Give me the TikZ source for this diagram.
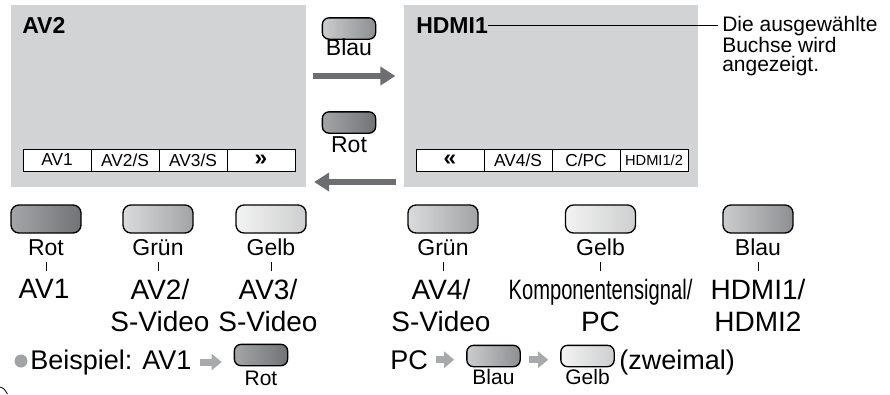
\documentclass[tikz,border=0pt]{standalone}
\usepackage{fontspec}
\setmainfont{Liberation Sans}
\usepackage{graphicx}
\usepackage{tikz}
\usetikzlibrary{arrows.meta,positioning}
\definecolor{ScreenGray}{HTML}{D2D3D5}
\definecolor{ArrowDark}{HTML}{6D6E71}
\definecolor{ArrowLight}{HTML}{A7A9AC}
\definecolor{DotGray}{HTML}{A2A3A6}
\definecolor{RotL}{HTML}{A4A5A7}
\definecolor{RotR}{HTML}{727376}
\definecolor{GruenL}{HTML}{DADBDC}
\definecolor{GruenR}{HTML}{A2A3A5}
\definecolor{GelbL}{HTML}{F3F3F3}
\definecolor{GelbR}{HTML}{CDCECF}
\definecolor{BlauL}{HTML}{CBCCCD}
\definecolor{BlauR}{HTML}{8E8F92}
\newcommand\fsTitle{\fontsize{17.25pt}{20pt}\selectfont\bfseries}
\newcommand\fsTab{\fontsize{13pt}{15pt}\selectfont}
\newcommand\fsTabSmall{\fontsize{11pt}{13pt}\selectfont}
\newcommand\fsChev{\fontsize{17pt}{17pt}\selectfont\bfseries}
\newcommand\fsKey{\fontsize{17.25pt}{19pt}\selectfont}
\newcommand\fsBig{\fontsize{20.25pt}{24pt}\selectfont}
\newcommand\fsJack{\fontsize{21pt}{24pt}\selectfont}
\newcommand\fsNote{\fontsize{15.75pt}{14.6pt}\selectfont}
\newcommand\fsEx{\fontsize{15.75pt}{18pt}\selectfont}

\begin{document}
\begin{tikzpicture}[x=0.75pt,y=-0.75pt,
  screen/.style={fill=ScreenGray,minimum width=221pt,minimum height=136.5pt,inner sep=0pt},
  tab/.style={draw,fill=white,line width=0.6pt,minimum width=51pt,minimum height=16.5pt,
    inner sep=0pt,outer sep=0pt,font=\fsTab},
  btn/.style={draw,line width=1pt,rounded corners=6pt,minimum width=52.5pt,
    minimum height=21pt,inner sep=0pt},
  minibtn/.style={btn,rounded corners=5pt,minimum width=40pt,minimum height=16pt},
  btnRot/.style={left color=RotL,right color=RotR},
  btnGruen/.style={left color=GruenL,right color=GruenR},
  btnGelb/.style={left color=GelbL,right color=GelbR},
  btnBlau/.style={left color=BlauL,right color=BlauR},
  key/.style={inner sep=0pt,anchor=base,font=\fsKey},
  exkey/.style={inner sep=0pt,anchor=base,font=\fsEx},
  jack/.style={inner sep=0pt,anchor=north,align=center,font=\fsJack},
  tick/.style={line width=0.6pt,shorten <=5.25pt,shorten >=6pt},
  bigarrow/.style={line width=4.5pt,ArrowDark,-{Triangle[length=11.25pt,width=13.5pt]},
    shorten <=5.25pt,shorten >=6pt},
  smallarrow/.style={line width=5.25pt,ArrowLight,-{Triangle[length=7.5pt,width=12pt]},
    shorten <=6pt,shorten >=9pt}]
  \useasboundingbox (0,0) rectangle (890,394);

  % the two screens
  \node[screen] (scrL) at (158.5,96) {};
  \node[screen] (scrR) at (551,96) {};
  \node[font=\fsTitle,inner sep=0pt,anchor=base west] (ttlL) at (22,33) {AV2};
  \node[font=\fsTitle,inner sep=0pt,anchor=base west] (ttlR) at (416,33) {HDMI1};

  \node[tab,anchor=west] (tL1) at (23,160) {AV1};
  \node[tab,right=0pt of tL1] (tL2) {AV2/S};
  \node[tab,right=0pt of tL2] (tL3) {AV3/S};
  \node[tab,right=0pt of tL3] (tL4) {\fsChev »};
  \node[tab,anchor=west] (tR1) at (416,160) {\fsChev «};
  \node[tab,right=0pt of tR1] (tR2) {AV4/S};
  \node[tab,right=0pt of tR2] (tR3) {C/PC};
  \node[tab,right=0pt of tR3] (tR4) {\fsTabSmall HDMI1/2};

  \node[font=\fsNote,align=left,inner sep=0pt,anchor=north west] (note) at (722,16)
    {Die ausgewählte\\Buchse wird\\angezeigt.};
  \draw[line width=0.6pt,shorten >=3pt] (ttlR.east) -- (ttlR.east -| note.west);

  % switching between the screens
  \node[minibtn,btnBlau] (bBlau) at (349,28.5) {};
  \node[key] (kBlau) at (349,55) {Blau};
  \node[minibtn,btnRot] (bRot) at (349,122.5) {};
  \node[key] (kRot) at (349,152) {Rot};
  \coordinate (rowFwd) at (350,76);
  \coordinate (rowBack) at (350,182);
  \draw[bigarrow] (scrL.east |- rowFwd) -- (scrR.west |- rowFwd);
  \draw[bigarrow] (scrR.west |- rowBack) -- (scrL.east |- rowBack);

  % colour keys and inputs
  \node[btn,btnRot] (bAV1) at (46,219) {};
  \node[key] (kAV1) at (46,255) {Rot};
  \node[jack] (jAV1) at (44,279) {AV1};
  \draw[tick] (kAV1) -- (kAV1 |- jAV1.north);

  \node[btn,btnGruen] (bAV2) at (158,219) {};
  \node[key] (kAV2) at (158,255) {Grün};
  \node[jack] (jAV2) at (160,279) {AV2/\\S-Video};
  \draw[tick] (kAV2) -- (kAV2 |- jAV2.north);

  \node[btn,btnGelb] (bAV3) at (271,219) {};
  \node[key] (kAV3) at (271,255) {Gelb};
  \node[jack] (jAV3) at (268,279) {AV3/\\S-Video};
  \draw[tick] (kAV3) -- (kAV3 |- jAV3.north);

  \node[btn,btnGruen] (bAV4) at (443,219) {};
  \node[key] (kAV4) at (443,255) {Grün};
  \node[jack] (jAV4) at (441,279) {AV4/\\S-Video};
  \draw[tick] (kAV4) -- (kAV4 |- jAV4.north);

  \node[btn,btnGelb] (bPC) at (600.5,219) {};
  \node[key] (kPC) at (600.5,255) {Gelb};
  \node[jack] (jPC) at (600.5,279) {\scalebox{0.72}[1]{Komponentensignal/}\\PC};
  \draw[tick] (kPC) -- (kPC |- jPC.north);

  \node[btn,btnBlau] (bHDMI) at (758,219) {};
  \node[key] (kHDMI) at (758,255) {Blau};
  \node[jack] (jHDMI) at (758,279) {HDMI1/\\HDMI2};
  \draw[tick] (kHDMI) -- (kHDMI |- jHDMI.north);

  % example
  \node[circle,fill=DotGray,minimum size=9.75pt,inner sep=0pt] (dot) at (21,361) {};
  \node[font=\fsBig,inner sep=0pt,anchor=base west] (exAV1) at (30,369) {Beispiel: AV1};
  \node[minibtn,btnRot] (exRot) at (261,355) {};
  \node[exkey] (exkRot) at (261,385) {Rot};
  \draw[smallarrow] (exAV1.east) -- (exAV1.east -| exRot.west);

  \node[font=\fsBig,inner sep=0pt,anchor=base west] (exPC) at (390,369) {PC};
  \node[minibtn,btnBlau] (exBlau) at (493.5,356) {};
  \node[exkey] (exkBlau) at (493.5,384) {Blau};
  \node[minibtn,btnGelb] (exGelb) at (587.5,356) {};
  \node[exkey] (exkGelb) at (587.5,384) {Gelb};
  \node[font=\fsBig,inner sep=0pt,anchor=base west] (exTwice) at (619,369) {(zweimal)};
  \draw[smallarrow] (exPC.east) -- (exPC.east -| exBlau.west);
  \draw[smallarrow] (exPC.east -| exBlau.east) -- (exPC.east -| exGelb.west);

  \draw[line width=0.6pt] (0,387) .. controls (4,388.5) .. (7.5,394);
\end{tikzpicture}
\end{document}
